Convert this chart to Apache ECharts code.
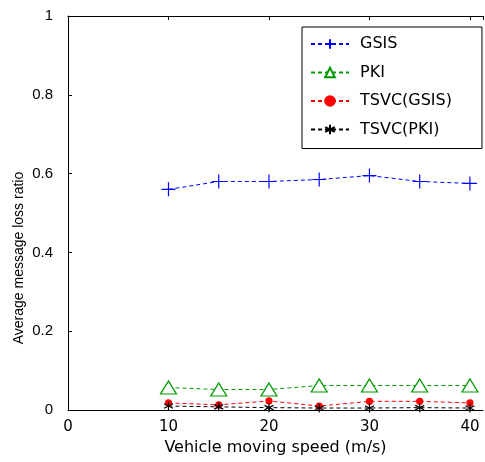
<!DOCTYPE html>
<html><head><meta charset="utf-8">
<script src="https://cdn.jsdelivr.net/npm/echarts@6/dist/echarts.min.js"></script>
<style>html,body{margin:0;padding:0;background:#fff}#c{width:485px;height:462px}</style>
</head><body><div id="c"></div>
<script>
const speeds = [10, 15, 20, 25, 30, 35, 40];
const gsis = [0.560, 0.580, 0.580, 0.585, 0.595, 0.580, 0.575];
const pki = [0.057, 0.052, 0.052, 0.062, 0.062, 0.062, 0.062];
const tsvcGsis = [0.018, 0.013, 0.023, 0.010, 0.022, 0.022, 0.018];
const tsvcPki = [0.010, 0.008, 0.006, 0.005, 0.005, 0.006, 0.005];
const seriesNames = ['GSIS', 'PKI', 'TSVC(GSIS)', 'TSVC(PKI)'];
const xTicks = [0, 10, 20, 30, 40];
const yTicks = [0, 0.2, 0.4, 0.6, 0.8, 1];

const FONT = 'Liberation Sans';
const WIDE = 'DejaVu Sans';
const plus = 'path://M5,0 L5,10 M0,5 L10,5';
const star = 'path://M5,0 L5,10 M0.7,2.5 L9.3,7.5 M0.7,7.5 L9.3,2.5';
const dash = [4, 3];

function mk(name, vals, color, symbol, size, fill) {
  return {
    name: name, type: 'line',
    data: speeds.map((s, i) => [s, vals[i]]),
    symbol: symbol, symbolSize: size,
    lineStyle: { color: color, width: 1, type: dash },
    itemStyle: { color: fill, borderColor: color, borderWidth: 1.2 },
    animation: false, z: 3
  };
}

const chart = echarts.init(document.getElementById('c'));
chart.setOption({
  backgroundColor: '#fff',
  animation: false,
  grid: { left: 68, right: 2, top: 16, bottom: 52 },
  legend: {
    data: seriesNames,
    orient: 'vertical',
    left: 302, top: 27,
    backgroundColor: '#fff',
    borderColor: '#000', borderWidth: 1,
    padding: [9, 30, 11, 8],
    itemWidth: 38, itemHeight: 12, itemGap: 12.5,
    textStyle: { fontFamily: WIDE, fontSize: 16, color: '#000', padding: [0, 0, 0, 6] }
  },
  xAxis: [{
    type: 'value', min: 0, max: 41.3, interval: 10,
    position: 'bottom',
    axisLine: { lineStyle: { color: '#000', width: 1 } },
    axisTick: { inside: true, length: 4, lineStyle: { color: '#000' } },
    axisLabel: {
      color: '#000', fontFamily: WIDE, fontSize: 15, margin: 10,
      showMaxLabel: false,
      formatter: v => (xTicks.indexOf(v) >= 0 ? String(v) : '')
    },
    splitLine: { show: false },
    name: 'Vehicle moving speed (m/s)', nameLocation: 'middle', nameGap: 30,
    nameTextStyle: { color: '#000', fontFamily: WIDE, fontSize: 16 }
  }, {
    type: 'value', min: 0, max: 41.3, interval: 10,
    position: 'top',
    axisLine: { show: true, lineStyle: { color: '#000', width: 1 } },
    axisTick: { show: true, inside: true, length: 4, lineStyle: { color: '#000' } },
    axisLabel: { show: false },
    splitLine: { show: false }
  }],
  yAxis: [{
    type: 'value', min: 0, max: 1, interval: 0.2,
    axisLine: { show: true, lineStyle: { color: '#000', width: 1 } },
    axisTick: { show: true, inside: true, length: 4, lineStyle: { color: '#000' } },
    axisLabel: {
      color: '#000', fontFamily: FONT, fontSize: 15, margin: 15,
      formatter: v => (yTicks.some(t => Math.abs(t - v) < 1e-9) ? String(+v.toFixed(1)) : '')
    },
    splitLine: { show: false }
  }],
  graphic: [{
    type: 'text', x: 19, y: 258, rotation: Math.PI / 2,
    style: { text: 'Average message loss ratio', fill: '#000', font: '14px "Liberation Sans"',
             textAlign: 'center', textVerticalAlign: 'middle' }
  }],
  series: [
    mk(seriesNames[0], gsis, '#0000ff', plus, 14, 'none'),
    mk(seriesNames[1], pki, '#009900', 'triangle', [16, 13], '#fff'),
    mk(seriesNames[2], tsvcGsis, '#ff0000', 'circle', 6, '#ff0000'),
    mk(seriesNames[3], tsvcPki, '#000000', star, 9, 'none')
  ]
});
</script>
</body></html>
